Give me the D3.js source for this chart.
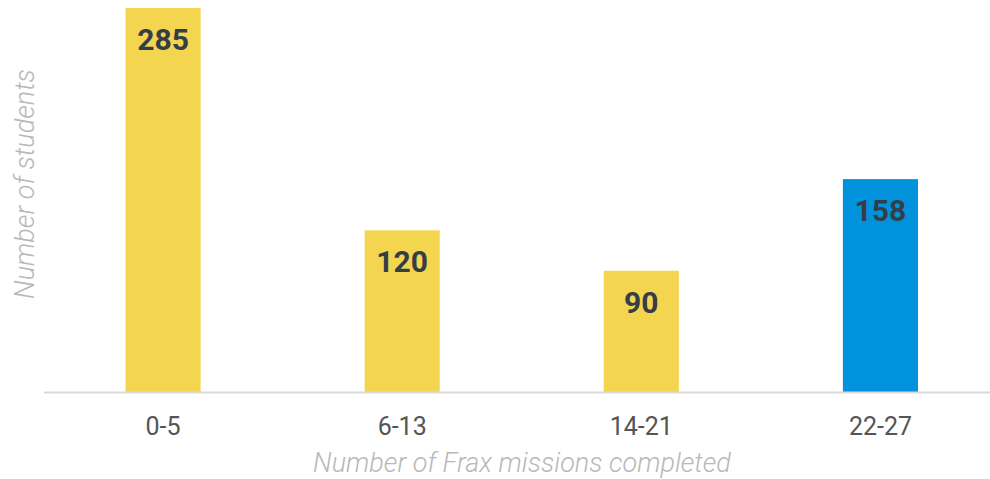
<!DOCTYPE html>
<html>
<head>
<meta charset="utf-8">
<script src="https://cdn.jsdelivr.net/npm/d3@7"></script>
<style>
  body { margin: 0; background: #fff; }
  svg { display: block; font-family: Roboto, sans-serif; }
</style>
</head>
<body>
<div id="chart"></div>
<script>
var categories = ["0-5", "6-13", "14-21", "22-27"];
var students = [285, 120, 90, 158];
var barColors = ["#f4d550", "#f4d550", "#f4d550", "#0093db"];

var width = 990, height = 479;
var baseline = 392;

var x = d3.scaleBand()
    .domain(categories)
    .range([43.5, 1000])
    .paddingInner(0.686)
    .paddingOuter(0.343);

var y = d3.scaleLinear()
    .domain([0, 285])
    .range([baseline, 8]);

var svg = d3.select("#chart").append("svg")
    .attr("width", width)
    .attr("height", height);

// bars
svg.selectAll(".bar")
    .data(students)
    .enter().append("rect")
    .attr("class", "bar")
    .attr("x", function(d, i) { return x(categories[i]); })
    .attr("y", function(d) { return y(d); })
    .attr("width", x.bandwidth())
    .attr("height", function(d) { return baseline - y(d); })
    .attr("fill", function(d, i) { return barColors[i]; });

// value labels inside bars
svg.selectAll(".val")
    .data(students)
    .enter().append("text")
    .attr("class", "val")
    .attr("x", function(d, i) { return x(categories[i]) + x.bandwidth() / 2; })
    .attr("y", function(d) { return y(d) + 42; })
    .attr("text-anchor", "middle")
    .style("font-size", "30px")
    .style("font-weight", "bold")
    .style("fill", "#353d48")
    .text(function(d) { return d; });

// x axis
var xAxis = d3.axisBottom(x).tickSize(0).tickPadding(25);
var gx = svg.append("g")
    .attr("transform", "translate(0," + baseline + ")")
    .call(xAxis);
gx.select(".domain").attr("stroke", "#d9d9d9").attr("stroke-width", 2);
gx.selectAll("text")
    .style("font-family", "Roboto, sans-serif")
    .style("font-size", "25px")
    .style("fill", "#555555");

// axis titles
svg.append("text")
    .attr("x", 522)
    .attr("y", 472)
    .attr("text-anchor", "middle")
    .style("font-size", "27px")
    .style("font-style", "italic")
    .style("font-weight", 300)
    .style("fill", "#b8b8b8")
    .text("Number of Frax missions completed");

svg.append("text")
    .attr("transform", "translate(34,184) rotate(-90)")
    .attr("text-anchor", "middle")
    .style("font-size", "27px")
    .style("font-style", "italic")
    .style("font-weight", 300)
    .style("fill", "#b8b8b8")
    .text("Number of students");
</script>
</body>
</html>
